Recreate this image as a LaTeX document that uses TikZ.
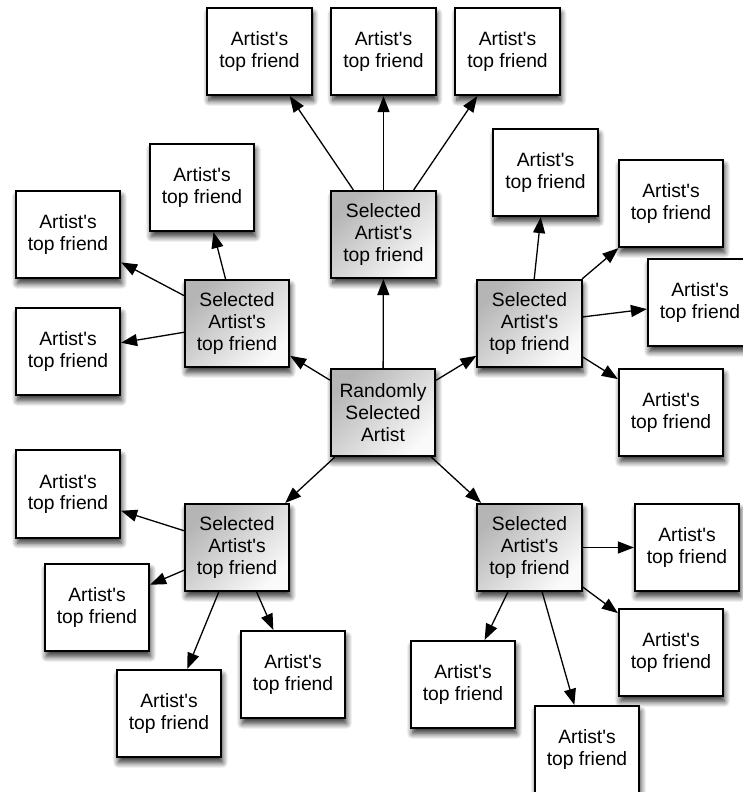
\documentclass[tikz,border=0pt]{standalone}
\usepackage{fontspec}
\setmainfont{Liberation Sans}
\usetikzlibrary{arrows.meta,shadows.blur}
\newcommand{\ap}{\textquotesingle}

\begin{document}
\begin{tikzpicture}[
  x=1pt, y=-1pt,
  friendbox/.style={
    draw=black, line width=1.7pt, fill=white,
    minimum width=104.5pt, minimum height=87.5pt,
    inner sep=0pt, align=center,
    font=\fontsize{19.3}{21.7}\selectfont,
    blur shadow={shadow xshift=1.5pt, shadow yshift=-5.5pt,
                 shadow blur radius=5.5pt, shadow blur steps=12,
                 shadow opacity=80}},
  selbox/.style={friendbox,
    top color=gray!58, bottom color=gray!4, shading angle=45},
  link/.style={draw=black, line width=1.3pt,
    -{Triangle[length=16pt,width=12pt]}}
]
\useasboundingbox (0,0) rectangle (742,792);

% centre
\node[selbox] (c) at (383,412.5) {Randomly\\Selected\\Artist};

% selected friends
\node[selbox] (gt)  at (383.5,234.5) {Selected\\Artist\ap s\\top friend};
\node[selbox] (gl)  at (237,323.5)   {Selected\\Artist\ap s\\top friend};
\node[selbox] (gr)  at (529.5,323.5) {Selected\\Artist\ap s\\top friend};
\node[selbox] (gll) at (237,547.5)   {Selected\\Artist\ap s\\top friend};
\node[selbox] (glr) at (529.5,547.5) {Selected\\Artist\ap s\\top friend};

% their top friends
\node[friendbox] (t1)  at (259.5,51.5) {Artist\ap s\\top friend};
\node[friendbox] (t2)  at (383.5,51.5) {Artist\ap s\\top friend};
\node[friendbox] (t3)  at (507.5,51.5) {Artist\ap s\\top friend};

\node[friendbox] (ul1) at (202,187.5)  {Artist\ap s\\top friend};
\node[friendbox] (ul2) at (68,234.5)   {Artist\ap s\\top friend};
\node[friendbox] (ul3) at (68,351.5)   {Artist\ap s\\top friend};

\node[friendbox] (ur1) at (545.5,172.5) {Artist\ap s\\top friend};
\node[friendbox] (ur2) at (671,203.5)   {Artist\ap s\\top friend};
\node[friendbox] (ur3) at (700,302.5)   {Artist\ap s\\top friend};
\node[friendbox] (ur4) at (671,412.5)   {Artist\ap s\\top friend};

\node[friendbox] (ll1) at (68,494)     {Artist\ap s\\top friend};
\node[friendbox] (ll2) at (97,607.5)   {Artist\ap s\\top friend};
\node[friendbox] (ll3) at (169,713.5)  {Artist\ap s\\top friend};
\node[friendbox] (ll4) at (293,674.5)  {Artist\ap s\\top friend};

\node[friendbox] (lr1) at (687,547.5)  {Artist\ap s\\top friend};
\node[friendbox] (lr2) at (671,652.5)  {Artist\ap s\\top friend};
\node[friendbox] (lr3) at (463,684.5)  {Artist\ap s\\top friend};
\node[friendbox] (lr4) at (587,749.5)  {Artist\ap s\\top friend};

% links from the centre
\draw[link] (c) -- (gt);
\draw[link] (c) -- (gl);
\draw[link] (c) -- (gr);
\draw[link] (c) -- (gll);
\draw[link] (c) -- (glr);

% links to top friends
\draw[link] (gt) -- (t1);
\draw[link] (gt) -- (t2);
\draw[link] (gt) -- (t3);

\draw[link] (gl) -- (ul1);
\draw[link] (gl) -- (ul2);
\draw[link] (gl) -- (ul3);

\draw[link] (gr) -- (ur1);
\draw[link] (gr) -- (ur2);
\draw[link] (gr) -- (ur3);
\draw[link] (gr) -- (ur4);

\draw[link] (gll) -- (ll1);
\draw[link] (gll) -- (ll2);
\draw[link] (gll) -- (ll3);
\draw[link] (gll) -- (ll4);

\draw[link] (glr) -- (lr1);
\draw[link] (glr) -- (lr2);
\draw[link] (glr) -- (lr3);
\draw[link] (glr) -- (lr4);
\end{tikzpicture}
\end{document}
